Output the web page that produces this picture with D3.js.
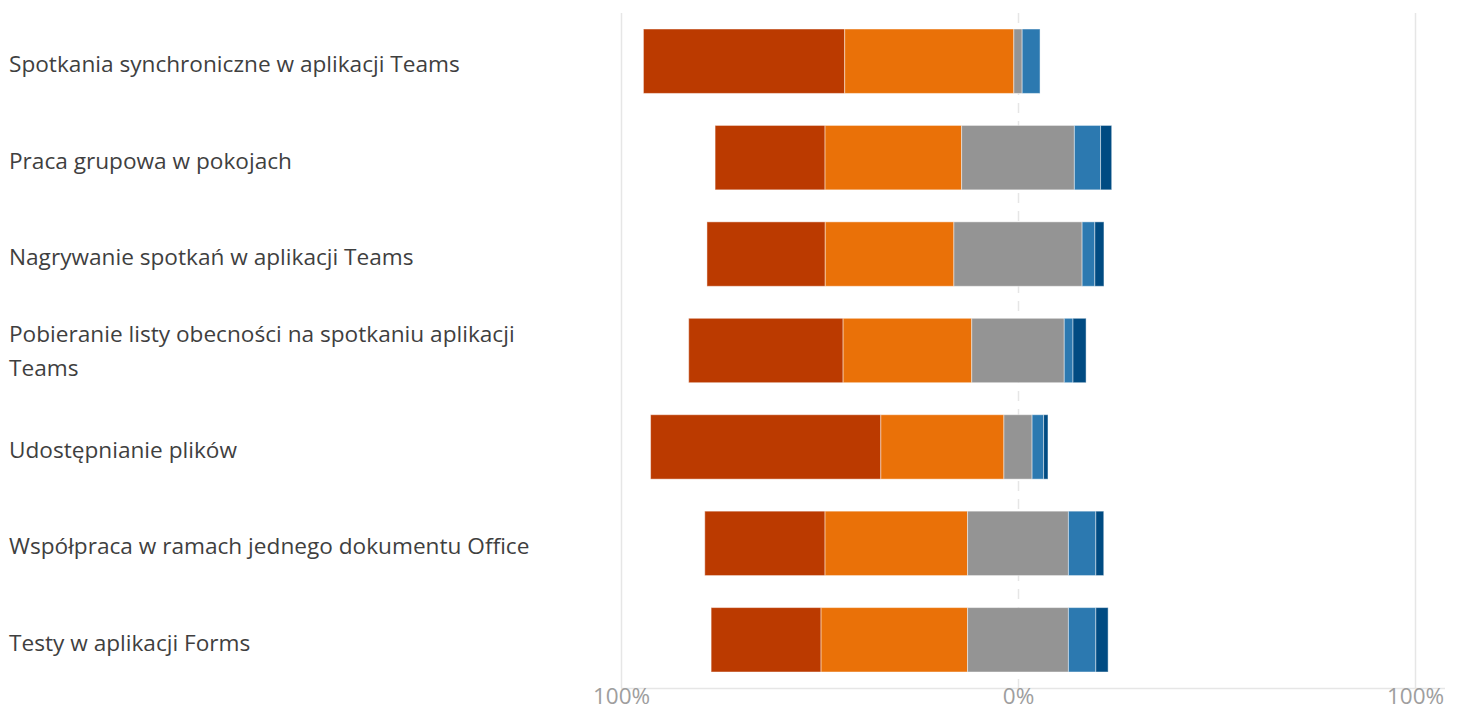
<!DOCTYPE html>
<html>
<head>
<meta charset="utf-8">
<script src="https://cdn.jsdelivr.net/npm/d3@7/dist/d3.min.js"></script>
<style>
  html, body { margin: 0; padding: 0; background: #fff; }
  svg { display: block; }
</style>
</head>
<body>
<svg id="chart" width="1460" height="710"></svg>
<script>
// ---- data ----
const categories = [
  "Spotkania synchroniczne w aplikacji Teams",
  "Praca grupowa w pokojach",
  "Nagrywanie spotkań w aplikacji Teams",
  "Pobieranie listy obecności na spotkaniu aplikacji Teams",
  "Udostępnianie plików",
  "Współpraca w ramach jednego dokumentu Office",
  "Testy w aplikacji Forms"
];
const labelLines = [
  ["Spotkania synchroniczne w aplikacji Teams"],
  ["Praca grupowa w pokojach"],
  ["Nagrywanie spotkań w aplikacji Teams"],
  ["Pobieranie listy obecności na spotkaniu aplikacji", "Teams"],
  ["Udostępnianie plików"],
  ["Współpraca w ramach jednego dokumentu Office"],
  ["Testy w aplikacji Forms"]
];
const seriesNames = ["s1", "s2", "s3", "s4", "s5"];
const s1 = [50.7, 27.7, 29.8, 38.9, 58.0, 30.3, 27.7];
const s2 = [42.6, 34.4, 32.4, 32.4, 31.0, 35.9, 36.9];
const s3 = [2.1, 28.4, 32.3, 23.3, 7.1, 25.4, 25.4];
const s4 = [4.5, 6.6, 3.2, 2.2, 2.9, 6.9, 6.9];
const s5 = [0.0, 2.8, 2.3, 3.3, 1.1, 2.0, 3.1];
const tickValues = [-100, 0, 100];
const tickLabels = ["100%", "0%", "100%"];
const colors = ["#BB3A00", "#EA7108", "#949494", "#2C79B0", "#004B82"];

// ---- layout ----
const svg = d3.select("#chart");
const x = d3.scaleLinear().domain([-100, 100]).range([621, 1415]);
const y = d3.scaleBand().domain(categories).range([13, 688]).paddingInner(0.332).paddingOuter(0.166);

// gridlines
const grid = svg.append("g");
grid.selectAll("line.g").data(tickValues).enter().append("line")
  .attr("x1", d => Math.round(x(d)) + 0.5).attr("x2", d => Math.round(x(d)) + 0.5)
  .attr("y1", 13).attr("y2", 688)
  .attr("stroke", "#e6e6e6").attr("stroke-width", 1.5)
  .attr("stroke-dasharray", d => d === 0 ? "10,8" : null);

// baseline
svg.append("line")
  .attr("x1", x(-100)).attr("x2", x(100) + 30)
  .attr("y1", 688.5).attr("y2", 688.5)
  .attr("stroke", "#e6e6e6").attr("stroke-width", 1.5);

// stack data
const rows = categories.map((c, i) => {
  const vals = [s1[i], s2[i], s3[i], s4[i], s5[i]];
  let start = -(vals[0] + vals[1] + vals[2] / 2);
  return vals.map((v, k) => {
    const seg = { cat: c, k, x0: start, x1: start + v };
    start += v;
    return seg;
  });
});

svg.append("g").selectAll("g").data(rows).enter().append("g")
  .selectAll("rect").data(d => d.filter(s => s.x1 - s.x0 > 0)).enter().append("rect")
  .attr("x", d => x(d.x0))
  .attr("width", d => x(d.x1) - x(d.x0))
  .attr("y", d => y(d.cat))
  .attr("height", y.bandwidth())
  .attr("fill", d => colors[d.k])
  .attr("stroke", "rgba(255,255,255,0.45)")
  .attr("stroke-width", 1);

// x axis labels
const xAxis = d3.axisBottom(x).tickValues(tickValues).tickFormat((d, i) => tickLabels[i]).tickSize(0).tickPadding(0);
const ax = svg.append("g").attr("transform", "translate(0,688)").call(xAxis);
ax.select(".domain").remove();
ax.selectAll("text")
  .attr("y", 15.5).attr("dy", 0)
  .attr("font-family", "'Open Sans', 'Noto Sans', sans-serif")
  .attr("font-size", 22.5)
  .attr("fill", "#9e9e9e");

// category labels
const lab = svg.append("g").attr("font-family", "'Open Sans', 'Noto Sans', sans-serif")
  .attr("fill", "#3f3f3f");
let fs = 20;
const probe = lab.append("text").attr("font-size", fs).text(labelLines[0][0]);
const w = probe.node().getComputedTextLength();
probe.remove();
fs = fs * 451 / w;
lab.attr("font-size", fs);

labelLines.forEach((lines, i) => {
  const c = y(categories[i]) + y.bandwidth() / 2;
  const t = lab.append("text").attr("x", 9);
  if (lines.length === 1) {
    t.append("tspan").attr("x", 9).attr("y", c + 11).text(lines[0]);
  } else {
    lines.forEach((ln, j) => {
      t.append("tspan").attr("x", 9).attr("y", c - 9 + j * 34).text(ln);
    });
  }
});
</script>
</body>
</html>
